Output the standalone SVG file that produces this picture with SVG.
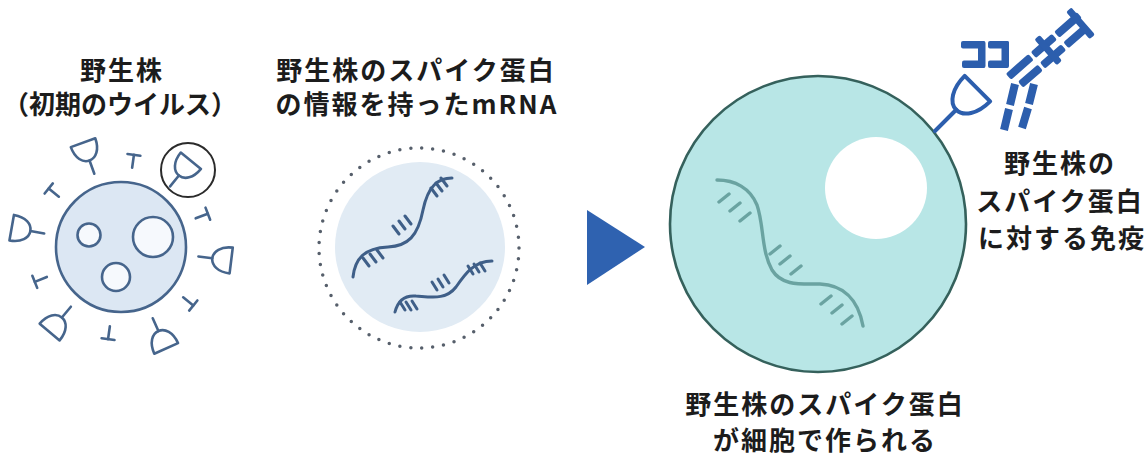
<svg xmlns="http://www.w3.org/2000/svg" xmlns:xlink="http://www.w3.org/1999/xlink" width="1146" height="459" viewBox="0 0 1146 459">
  <style>
    .label { font-family: "Noto Sans CJK JP", "Noto Sans", sans-serif; font-weight: 700; font-size: 26px; fill: #1c1c1c; text-anchor: middle; letter-spacing: 2px; }
    .vline { fill: none; stroke: #46658c; stroke-width: 2.6; stroke-linecap: round; stroke-linejoin: round; }
    .rna { fill: none; stroke: #3f5f88; stroke-width: 3; stroke-linecap: round; }
    .crna { fill: none; stroke: #6aa3a1; stroke-width: 3.4; stroke-linecap: round; }
    .ab { fill: #2c5ead; }
    .abline { fill: none; stroke: #2c5ead; stroke-width: 4; stroke-linecap: round; stroke-linejoin: round; }
  </style>
  <defs>
    <!-- surface spike with a cup-shaped head, pointing up from the origin -->
    <g id="spike-cup">
      <line x1="0" y1="-78" x2="0" y2="-92" class="vline"/>
      <path class="vline" d="M-13,-111 L13,-111 C13,-99 7,-92 0,-92 C-7,-92 -13,-99 -13,-111 Z"/>
    </g>
    <!-- small T-shaped spike -->
    <g id="spike-t">
      <line x1="0" y1="-80" x2="0" y2="-93" class="vline"/>
      <line x1="-6.5" y1="-93" x2="6.5" y2="-93" class="vline"/>
    </g>
  </defs>

  <rect width="1146" height="459" fill="#ffffff"/>

  <!-- wild-type virus -->
  <g id="virus">
    <text class="label" x="122" y="80">野生株</text>
    <text class="label" x="120" y="114" style="letter-spacing:0">（初期のウイルス）</text>
    <circle cx="121" cy="247" r="65" class="vline" style="fill:#dce7f3"/>
    <circle cx="89" cy="235" r="11.5" class="vline" style="fill:#f6f9fd"/>
    <circle cx="153" cy="237" r="20" class="vline" style="fill:#f6f9fd"/>
    <circle cx="116" cy="277" r="14" class="vline" style="fill:#f6f9fd"/>
    <g id="virus-spikes">
      <use xlink:href="#spike-cup" transform="translate(121,247) rotate(-20)"/>
      <use xlink:href="#spike-t" transform="translate(121,247) rotate(8)"/>
      <use xlink:href="#spike-cup" transform="translate(121,247) rotate(39)"/>
      <use xlink:href="#spike-t" transform="translate(121,247) rotate(-51)"/>
      <use xlink:href="#spike-cup" transform="translate(121,247) rotate(-80)"/>
      <use xlink:href="#spike-t" transform="translate(121,247) rotate(69)"/>
      <use xlink:href="#spike-cup" transform="translate(121,247) rotate(97)"/>
      <use xlink:href="#spike-t" transform="translate(121,247) rotate(-112)"/>
      <use xlink:href="#spike-t" transform="translate(121,247) rotate(129)"/>
      <use xlink:href="#spike-cup" transform="translate(121,247) rotate(-140)"/>
      <use xlink:href="#spike-t" transform="translate(121,247) rotate(-172)"/>
      <use xlink:href="#spike-cup" transform="translate(121,247) rotate(156)"/>
    </g>
    <circle cx="188" cy="170" r="27" fill="none" stroke="#2b2b2b" stroke-width="2"/>
  </g>

  <!-- mRNA particle -->
  <g id="mrna">
    <text class="label" x="416" y="80">野生株のスパイク蛋白</text>
    <text class="label" x="417" y="114">の情報を持ったmRNA</text>
    <circle cx="420" cy="247" r="85" fill="#e1ebf4"/>
    <circle cx="419" cy="248" r="100" fill="none" stroke="#565f6b" stroke-width="3.5" stroke-linecap="round" pathLength="57" stroke-dasharray="0 1"/>
    <path class="rna" d="M353,277 C355,259 364,248 388,247 C408,246 418,236 423,210 C428,186 438,178 452,178"/>
    <path class="rna" d="M363,258 l6,8 M370,254 l6,8 M377,250 l6,8
                         M393,226 l6,8 M399,221 l6,8 M405,216 l6,8
                         M431,188 l6,8 M436,183 l6,8 M441,178 l6,8"/>
    <path class="rna" d="M395,312 C398,300 405,295 416,296 C432,297 446,300 456,287 C465,274 474,261 492,261"/>
    <path class="rna" d="M400,302 l5,8 M406,302 l5,8 M412,301 l5,8
                         M432,282 l5,8 M438,279 l5,8 M444,275 l5,8
                         M468,266 l5,8 M474,264 l5,8 M480,263 l5,8"/>
  </g>

  <!-- arrow between stages -->
  <g id="arrow">
    <polygon points="587,210 587,285 645,247" fill="#2f62b0"/>
  </g>

  <!-- cell producing the spike protein -->
  <g id="cell">
    <circle cx="818" cy="224" r="148" fill="#b8e6e6" stroke="#35615c" stroke-width="2.6"/>
    <circle cx="876" cy="188" r="51" fill="#ffffff"/>
    <path class="crna" d="M717,180 C735,180 750,188 757,205 C764,225 761,250 772,270 C782,286 800,284 820,284 C842,285 858,298 863,326"/>
    <path class="crna" d="M719,202 l10,-8 M730,211 l10,-8 M740,221 l10,-8
                          M770,254 l10,-8 M780,264 l10,-8 M791,274 l10,-8
                          M821,304 l10,-8 M832,313 l10,-8 M842,324 l10,-8"/>
    <text class="label" x="825" y="414">野生株のスパイク蛋白</text>
    <text class="label" x="825" y="450">が細胞で作られる</text>
  </g>

  <!-- antibody bound to the spike on the cell surface -->
  <g id="antibody">
    <g transform="translate(935,131) rotate(45)">
      <line x1="0" y1="0" x2="0" y2="-30" class="abline"/>
      <path class="abline" d="M-18,-60 L18,-60 C18,-42 10,-30 0,-30 C-10,-30 -18,-42 -18,-60 Z"/>
    </g>
    <!-- left arm -->
    <rect class="ab" x="961" y="41" width="24" height="7.5" rx="2"/>
    <rect class="ab" x="978" y="41" width="7.5" height="27" rx="2"/>
    <rect class="ab" x="962" y="60.5" width="23" height="7.5" rx="2"/>
    <rect class="ab" x="988" y="41" width="21" height="7.5" rx="2"/>
    <rect class="ab" x="1001.5" y="41" width="7.5" height="27" rx="2"/>
    <rect class="ab" x="988" y="60.5" width="20" height="7.5" rx="2"/>
    <!-- upper-right arm -->
    <g transform="translate(1013,82) rotate(-41)">
      <rect class="ab" x="0" y="-11" width="30" height="8" rx="2"/>
      <rect class="ab" x="33" y="-11" width="28" height="8" rx="2"/>
      <rect class="ab" x="64" y="-11" width="30" height="8" rx="2"/>
      <rect class="ab" x="4" y="3" width="26" height="8" rx="2"/>
      <rect class="ab" x="33" y="3" width="28" height="8" rx="2"/>
      <rect class="ab" x="64" y="3" width="28" height="8" rx="2"/>
      <rect class="ab" x="44" y="-18" width="7" height="34" rx="2"/>
      <rect class="ab" x="86" y="-18" width="7" height="36" rx="2"/>
    </g>
    <!-- stem -->
    <path class="abline" style="stroke-width:8;stroke-linecap:butt" d="M1015,84 L1010,105 M1009,109 L1004,130 M1034,84 L1029,104 M1028,108 L1022,128"/>
  </g>

  <!-- immunity label -->
  <g id="immunity">
    <text class="label" x="1060" y="173">野生株の</text>
    <text class="label" x="1060" y="211">スパイク蛋白</text>
    <text class="label" x="1062" y="248">に対する免疫</text>
  </g>
</svg>
